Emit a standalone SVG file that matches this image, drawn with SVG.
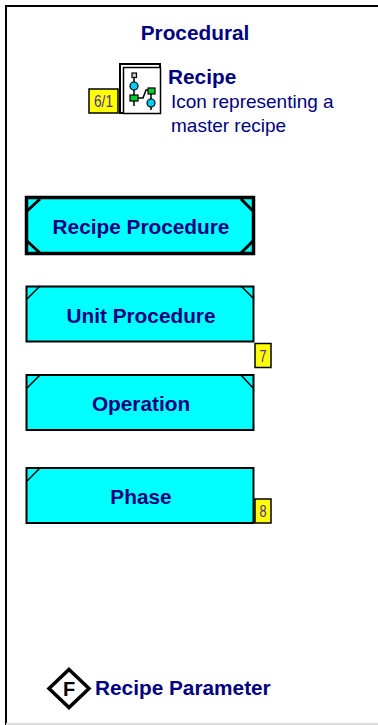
<svg xmlns="http://www.w3.org/2000/svg" width="378" height="725" viewBox="0 0 378 725">
<style>
text{font-family:"Liberation Sans",Arial,sans-serif;fill:#000080}
.b{font-weight:bold;font-size:20.8px}
.r{font-size:19px}
.c{text-anchor:middle}
.box{fill:#00ffff;stroke:#000;stroke-width:2}
.cn{fill:none;stroke:#000;stroke-width:1.500}
.cnb{fill:none;stroke:#000;stroke-width:3}
.tag{fill:#ffff00;stroke:#000;stroke-width:1.500}
.tt{font-size:17px;fill:#4b2aa0;text-anchor:middle}
.g{fill:#00cc33;stroke:#000;stroke-width:1.200}
.bl{fill:#00ccff;stroke:#000;stroke-width:1.200}
</style>
<rect width="378" height="725" fill="#fff"/>
<path d="M378 6H6V725" stroke="#000" stroke-width="2" fill="none"/>
<path d="M6 724H378" stroke="#ddd" stroke-width="2" fill="none"/>
<text class="b c" x="195" y="40">Procedural</text>
<g id="recipe-icon">
<rect x="120" y="64" width="40" height="49" fill="#fff" stroke="#000" stroke-width="2"/>
<rect x="123.500" y="67.500" width="37" height="46" fill="#fff" stroke="#000" stroke-width="1.500"/>
<path d="M134 76V106M134 98H143L146 90H151V110M134 80V92M151 96V110" fill="none" stroke="#000" stroke-width="1.500"/>
<rect x="132" y="73" width="4.500" height="4.500" fill="#ccc" stroke="#000" stroke-width="1.200"/>
<circle cx="134" cy="86" r="4" class="bl"/>
<rect x="130" y="95" width="8" height="6" class="g"/>
<rect x="148" y="88" width="7" height="6" class="g"/>
<circle cx="151" cy="103" r="4" class="bl"/>
<rect x="89" y="89" width="29" height="24" class="tag"/>
<text class="tt" x="103.500" y="107" textLength="19" lengthAdjust="spacingAndGlyphs">6/1</text>
</g>
<text class="b" x="168" y="84">Recipe</text>
<text class="r" x="171" y="108">Icon representing a</text>
<text class="r" x="171" y="132">master recipe</text>
<g id="recipe-procedure">
<rect x="26.500" y="197.500" width="227" height="56" fill="#00ffff" stroke="#000" stroke-width="3.500"/>
<path d="M27 211L40 199M241 199L253 211M27 241L40 253M241 253L253 241" class="cnb"/>
<text class="b c" x="141" y="234">Recipe Procedure</text>
</g>
<g id="unit-procedure">
<rect x="26.500" y="286.500" width="227" height="55" class="box"/>
<path d="M27 299L40 286M241 286L253 298" class="cn"/>
<text class="b c" x="141" y="323">Unit Procedure</text>
<rect x="255" y="343.500" width="16" height="24" class="tag"/>
<text class="tt" x="263" y="362" textLength="7" lengthAdjust="spacingAndGlyphs">7</text>
</g>
<g id="operation">
<rect x="26.500" y="375" width="227" height="55" class="box"/>
<path d="M27 388L40 375M241 375L253 388" class="cn"/>
<text class="b c" x="141" y="411">Operation</text>
</g>
<g id="phase">
<rect x="26.500" y="468" width="227" height="55" class="box"/>
<path d="M27 481L40 468" class="cn"/>
<text class="b c" x="141" y="504">Phase</text>
<rect x="255" y="499" width="16" height="24" class="tag"/>
<text class="tt" x="263" y="517" textLength="7" lengthAdjust="spacingAndGlyphs">8</text>
</g>
<g id="recipe-parameter">
<path d="M69 669.500L89 688.500L69 707.500L49 688.500Z" fill="#fff" stroke="#000" stroke-width="3.500"/>
<text x="69" y="696" text-anchor="middle" font-size="20" font-weight="bold" style="fill:#000">F</text>
<text class="b" x="95" y="695">Recipe Parameter</text>
</g>
</svg>
